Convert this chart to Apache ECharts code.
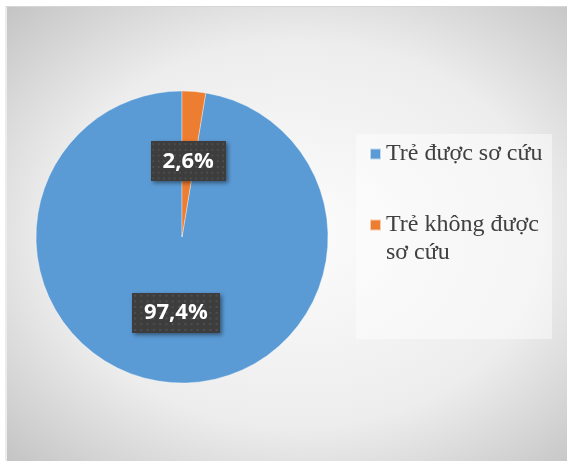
<!DOCTYPE html>
<html>
<head>
<meta charset="utf-8">
<script src="https://cdn.jsdelivr.net/npm/echarts@6/dist/echarts.min.js"></script>
<style>
  html, body { margin: 0; padding: 0; background: #ffffff; }
  #frame {
    position: absolute; left: 5px; top: 6px; width: 562px; height: 455px;
    background: radial-gradient(ellipse at 52% 50%, #fcfcfc 0%, #ededed 60%, #c4c4c4 100%);
    border-top: 1px solid #d6d6d6; border-left: 2px solid #ececec;
    box-sizing: border-box;
  }
  #chart { position: absolute; left: 0; top: 0; width: 567px; height: 461px; }
</style>
</head>
<body>
<div id="frame"></div>
<div id="chart"></div>
<script>
// dữ liệu
var categories = ['Trẻ được sơ cứu', 'Trẻ không được sơ cứu'];
var percentValues = [97.4, 2.6];
var sliceColors = ['#5b9bd5', '#ed7d31'];

// dotted texture for the label boxes
function makeDots(w, h) {
  var c = document.createElement('canvas');
  c.width = w; c.height = h;
  var ctx = c.getContext('2d');
  ctx.fillStyle = '#3d3d3d';
  ctx.fillRect(0, 0, w, h);
  ctx.fillStyle = '#4f4f4f';
  for (var y = 2; y < h; y += 6) {
    for (var x = 2; x < w; x += 6) {
      ctx.fillRect(x, y, 2, 2);
    }
  }
  return c;
}
var dots = makeDots(84, 42);

var pieData = [];
for (var i = 0; i < categories.length; i++) {
  pieData.push({
    name: categories[i],
    value: percentValues[i],
    itemStyle: { color: sliceColors[i] }
  });
}

var chart = echarts.init(document.getElementById('chart'), null, { renderer: 'canvas' });
chart.setOption({
  backgroundColor: 'transparent',
  animation: false,
  graphic: [{
    type: 'rect',
    z: -10,
    shape: { x: 356, y: 134, width: 196, height: 205 },
    style: { fill: 'rgba(255,255,255,0.45)' }
  }],
  legend: {
    orient: 'vertical',
    left: 369,
    top: 140,
    padding: 0,
    itemGap: 15,
    itemWidth: 11,
    itemHeight: 11,
    icon: 'rect',
    selectedMode: false,
    textStyle: {
      fontFamily: 'Liberation Serif',
      fontSize: 24,
      lineHeight: 28,
      color: '#404040'
    },
    data: categories,
    formatter: function(name) {
      // blank first line keeps the icon level with "Trẻ không được"
      if (name === categories[1]) return '\u00a0\nTrẻ không được\nsơ cứu';
      return name;
    }
  },
  series: [{
    type: 'pie',
    center: [182, 237],
    radius: 146,
    startAngle: 90 - 360 * percentValues[1] / 100,
    clockwise: true,
    itemStyle: { borderColor: 'rgba(255,255,255,0.6)', borderWidth: 0.6 },
    label: {
      show: true,
      position: 'inside',
      formatter: function(p) {
        return p.value.toFixed(1).replace('.', ',') + '%';
      },
      fontFamily: 'Open Sans',
      fontWeight: 'bold',
      fontSize: 22,
      color: '#ffffff',
      backgroundColor: { image: dots },
      padding: [9, 12],
      shadowColor: 'rgba(0,0,0,0.45)',
      shadowBlur: 4,
      shadowOffsetX: 2,
      shadowOffsetY: 2
    },
    labelLine: { show: false },
    emphasis: { disabled: true },
    data: pieData
  }]
});
</script>
</body>
</html>
